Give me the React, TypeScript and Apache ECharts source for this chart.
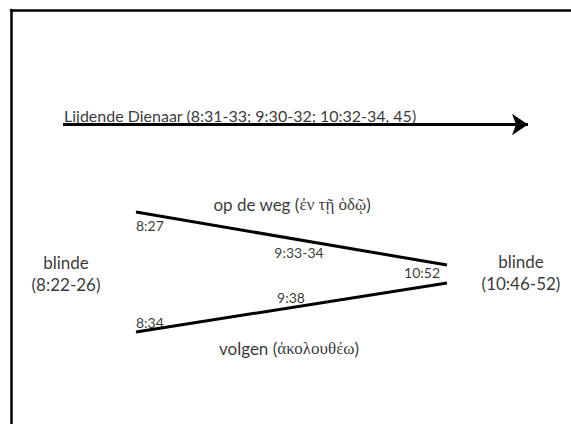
import React, { useEffect, useRef } from "react";
import * as echarts from "echarts";

// Diagram coordinates (units of the hidden value axes; origin at the framed top-left corner)
const titleText = "Lijdende Dienaar (8:31-33; 9:30-32; 10:32-34, 45)";
const arrowStart: [number, number] = [52, 114.5];
const arrowEnd: [number, number] = [517, 114.5];

const upperPath: [number, number][] = [
  [125, 202],
  [436, 255],
];
const lowerPath: [number, number][] = [
  [125, 322],
  [436, 273],
];

const verseLabels = [
  { text: "8:27", x: 125, y: 215, align: "left" },
  { text: "9:33-34", x: 288, y: 242, align: "center" },
  { text: "10:52", x: 411, y: 262, align: "center" },
  { text: "9:38", x: 280, y: 287, align: "center" },
  { text: "8:34", x: 125, y: 312, align: "left" },
];

const pathTitles = [
  { dutch: "op de weg", greek: "ἐν τῇ ὁδῷ", x: 281, y: 194 },
  { dutch: "volgen", greek: "ἀκολουθέω", x: 278, y: 338 },
];

const blindLabels = [
  { word: "blinde", ref: "(8:22-26)", x: 55, y: 263 },
  { word: "blinde", ref: "(10:46-52)", x: 510, y: 262 },
];

const FONT = "Lato, 'Open Sans', sans-serif";
const GREEK = "'Liberation Serif', 'DejaVu Serif', serif";

export default function App() {
  const ref = useRef<HTMLDivElement>(null);
  useEffect(() => {
    if (!ref.current) return;
    const chart = echarts.init(ref.current, null, { renderer: "svg" });
    const textPoint = (
      value: [number, number],
      formatter: string,
      align: string,
      fontSize: number,
      extra: any = {}
    ) => ({
      value,
      label: {
        show: true,
        position: [0, 0],
        formatter,
        align,
        verticalAlign: "middle",
        fontFamily: FONT,
        fontSize,
        color: "#000",
        ...extra,
      },
    });
    const labelData: any[] = [];
    labelData.push(textPoint([arrowStart[0] + 1, 105.5], titleText, "left", 16));
    verseLabels.forEach((v) =>
      labelData.push(textPoint([v.x, v.y], v.text, v.align, 14))
    );
    pathTitles.forEach((p) =>
      labelData.push(
        textPoint([p.x, p.y], `${p.dutch} ({g|${p.greek}})`, "center", 17, {
          rich: { g: { fontFamily: GREEK, fontSize: 17, color: "#000" } },
        })
      )
    );
    blindLabels.forEach((b) =>
      labelData.push(
        textPoint([b.x, b.y], `${b.word}\n${b.ref}`, "center", 17, {
          lineHeight: 22,
        })
      )
    );

    chart.setOption({
      animation: false,
      grid: { left: 11, top: 10, right: 0, bottom: 0 },
      xAxis: {
        type: "value",
        position: "top",
        min: 0,
        max: 560,
        axisLine: { show: true, onZero: false, lineStyle: { color: "#000", width: 2.5 } },
        axisTick: { show: false },
        axisLabel: { show: false },
        splitLine: { show: false },
      },
      yAxis: {
        type: "value",
        inverse: true,
        min: 0,
        max: 414,
        axisLine: { show: true, onZero: false, lineStyle: { color: "#000", width: 2.5 } },
        axisTick: { show: false },
        axisLabel: { show: false },
        splitLine: { show: false },
      },
      series: [
        {
          type: "line",
          data: upperPath,
          symbol: "none",
          lineStyle: { color: "#000", width: 3 },
        },
        {
          type: "line",
          data: lowerPath,
          symbol: "none",
          lineStyle: { color: "#000", width: 3 },
        },
        {
          type: "lines",
          coordinateSystem: "cartesian2d",
          symbol: ["none", "arrow"],
          symbolSize: [17, 16],
          lineStyle: { color: "#000", width: 3, opacity: 1 },
          itemStyle: { color: "#000" },
          data: [{ coords: [arrowStart, arrowEnd] }],
        },
        {
          type: "scatter",
          symbolSize: 0,
          data: labelData,
          silent: true,
        },
      ],
    });
    return () => chart.dispose();
  }, []);
  return (
    <div
      ref={ref}
      style={{ position: "fixed", left: 0, top: 0, width: 571, height: 424, background: "#fff" }}
    />
  );
}
